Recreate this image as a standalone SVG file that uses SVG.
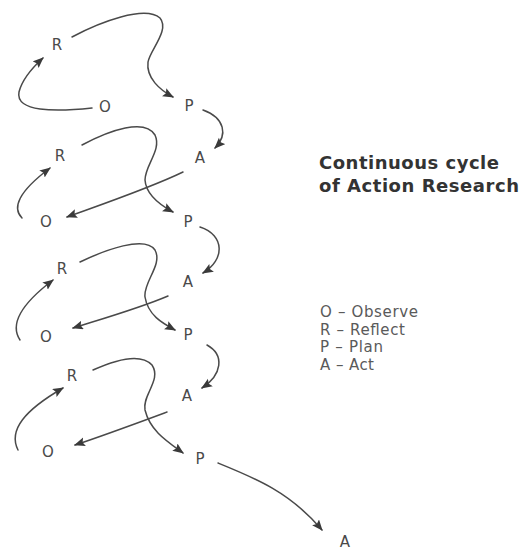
<svg xmlns="http://www.w3.org/2000/svg" width="520" height="550" viewBox="0 0 520 550">
<defs>
<marker id="ah" markerUnits="userSpaceOnUse" markerWidth="12" markerHeight="10" refX="10" refY="4.5" orient="auto">
<path d="M0,0 L11,4.5 L0,9 L2,4.5 z" fill="#3a3a3a"/>
</marker>
<style>
.c{fill:none;stroke:#4a4a4a;stroke-width:1.5;stroke-linecap:round}
.a{marker-end:url(#ah)}
.n{font-family:"DejaVu Sans","Liberation Sans",sans-serif;font-size:15px;fill:#4a4a4a;text-anchor:middle;dominant-baseline:central}
.t{font-family:"DejaVu Sans","Liberation Sans",sans-serif;font-size:18px;font-weight:bold;fill:#333}
.l{font-family:"DejaVu Sans","Liberation Sans",sans-serif;font-size:15px;fill:#5a5a5a}
</style>
</defs>
<rect width="520" height="550" fill="#fff"/>
<g id="connectors">
<path class="c a" d="M92,108 C55,112 15,112 19,92 C22,80 32,68 43,58"/>
<path class="c a" d="M72,37 C100,22 145,5 160,18 C170,30 150,50 148,62 C146,78 160,90 173,97"/>
<path class="c a" d="M203,110 C225,118 228,135 215,148"/>
<path class="c a" d="M82,145 C110,130 145,118 155,135 C162,150 145,165 145,180 C146,195 160,205 173,212"/>
<path class="c a" d="M183,172 C150,188 100,205 67,217"/>
<path class="c a" d="M22,218 C12,208 18,192 50,168"/>
<path class="c a" d="M200,227 C225,235 225,260 203,273"/>
<path class="c a" d="M80,262 C105,250 145,235 155,250 C163,265 143,282 145,297 C148,315 162,323 175,330"/>
<path class="c a" d="M168,296 C140,308 105,318 73,328"/>
<path class="c a" d="M20,340 C10,325 20,305 53,280"/>
<path class="c a" d="M207,345 C225,355 222,375 202,388"/>
<path class="c a" d="M93,370 C115,360 140,352 152,365 C162,380 142,395 145,410 C150,430 165,440 183,453"/>
<path class="c a" d="M167,412 C140,422 105,435 75,445"/>
<path class="c a" d="M18,450 C8,430 25,410 63,388"/>
<path class="c a" d="M218,463 C255,478 290,492 322,530"/>
</g>
<g id="r1"><text class="n" x="57" y="45">R</text></g>
<g id="o1"><text class="n" x="105" y="107">O</text></g>
<g id="p1"><text class="n" x="189" y="106">P</text></g>
<g id="r2"><text class="n" x="60" y="156">R</text></g>
<g id="a1"><text class="n" x="200" y="158">A</text></g>
<g id="o2"><text class="n" x="46" y="222">O</text></g>
<g id="p2"><text class="n" x="188" y="222">P</text></g>
<g id="r3"><text class="n" x="62" y="269">R</text></g>
<g id="a2"><text class="n" x="188" y="282">A</text></g>
<g id="o3"><text class="n" x="46" y="337">O</text></g>
<g id="p3"><text class="n" x="188" y="335">P</text></g>
<g id="r4"><text class="n" x="72" y="376">R</text></g>
<g id="a3"><text class="n" x="187" y="396">A</text></g>
<g id="o4"><text class="n" x="48" y="452">O</text></g>
<g id="p4"><text class="n" x="200" y="459">P</text></g>
<g id="a4"><text class="n" x="345" y="542">A</text></g>
<g id="title">
<text class="t" x="319" y="169" textLength="180" lengthAdjust="spacing">Continuous cycle</text>
<text class="t" x="319" y="192" textLength="200" lengthAdjust="spacing">of Action Research</text>
</g>
<g id="legend">
<text class="l" x="320" y="317" textLength="98" lengthAdjust="spacing">O – Observe</text>
<text class="l" x="320" y="334.5" textLength="85" lengthAdjust="spacing">R – Reflect</text>
<text class="l" x="320" y="352" textLength="63" lengthAdjust="spacing">P – Plan</text>
<text class="l" x="320" y="369.5" textLength="54" lengthAdjust="spacing">A – Act</text>
</g>
</svg>
